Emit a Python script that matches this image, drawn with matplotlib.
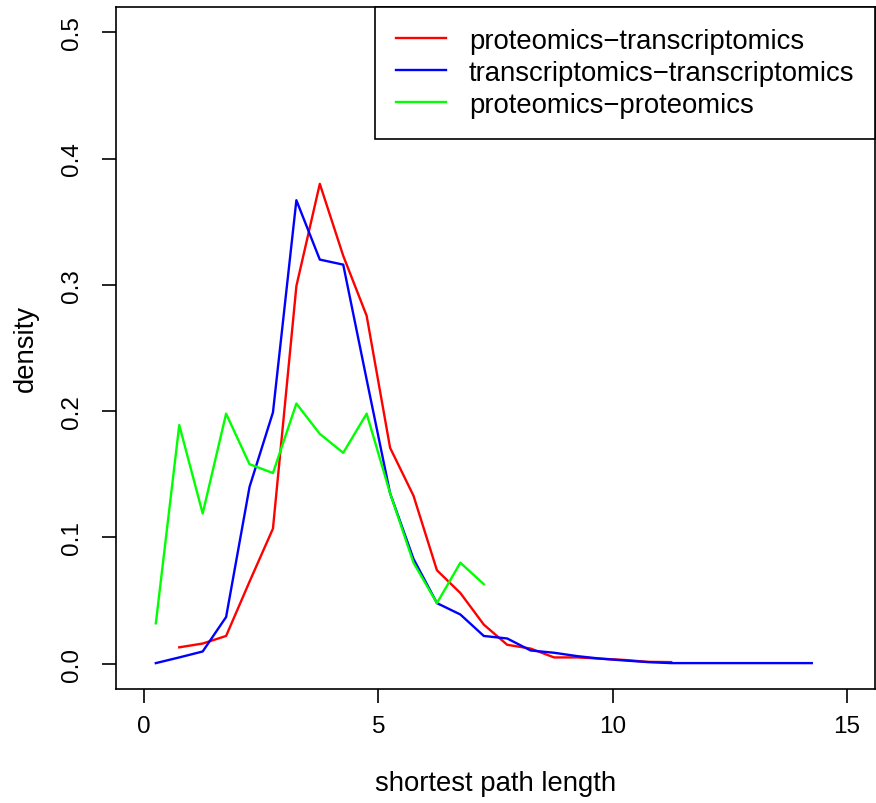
import numpy as np
import matplotlib
matplotlib.use("Agg")
import matplotlib.pyplot as plt

# ─── DATA ────────────────────────────────────────────────────
x_pt = [0.75 + 0.5 * i for i in range(22)]
y_pt = [0.013, 0.016, 0.022, 0.065, 0.107, 0.299, 0.380, 0.323, 0.2755, 0.171,
        0.133, 0.074, 0.056, 0.031, 0.015, 0.012, 0.005, 0.005, 0.004, 0.003,
        0.0015, 0.0013]

x_tt = [0.25 + 0.5 * i for i in range(29)]
y_tt = [0.0005, 0.005, 0.0097, 0.037, 0.140, 0.199, 0.367, 0.320, 0.316, 0.225,
        0.135, 0.083, 0.048, 0.039, 0.022, 0.020, 0.0105, 0.0087, 0.006, 0.004,
        0.0026, 0.0013, 0.0005, 0.0005, 0.0005, 0.0005, 0.0005, 0.0005, 0.0005]

x_pp = [0.25 + 0.5 * i for i in range(15)]
y_pp = [0.032, 0.189, 0.119, 0.198, 0.158, 0.151, 0.206, 0.182, 0.167, 0.198,
        0.135, 0.080, 0.048, 0.080, 0.063]

labels = ["proteomics\u2212transcriptomics",
          "transcriptomics\u2212transcriptomics",
          "proteomics\u2212proteomics"]
colors = ["#FF0000", "#0000FF", "#00FF00"]

x_ticks = [0, 5, 10, 15]
y_ticks = [0.0, 0.1, 0.2, 0.3, 0.4, 0.5]

# ─── PLOT ────────────────────────────────────────────────────
plt.rcParams["font.family"] = ["Liberation Sans", "DejaVu Sans"]

fig = plt.figure(figsize=(8.76, 8.04), dpi=100)
ax = fig.add_axes([116 / 876, 1 - 690 / 804, 759 / 876, 682 / 804])

ax.plot(x_pt, y_pt, color=colors[0], lw=1.7, label=labels[0])
ax.plot(x_tt, y_tt, color=colors[1], lw=1.7, label=labels[1])
ax.plot(x_pp, y_pp, color=colors[2], lw=1.7, label=labels[2])

ax.set_xlim(-0.6, 15.6)
ax.set_ylim(-0.02, 0.52)
ax.set_xticks(x_ticks)
ax.set_xticklabels([str(v) for v in x_ticks])
ax.set_yticks(y_ticks)
ax.set_yticklabels([f"{v:.1f}" for v in y_ticks], rotation=90, va="center")

ax.tick_params(axis="both", direction="out", length=10, width=1.2,
               labelsize=17.5, colors="black")
ax.tick_params(axis="x", pad=9)
ax.tick_params(axis="y", pad=14)
for sp in ax.spines.values():
    sp.set_linewidth(1.2)
    sp.set_color("black")

ax.set_xlabel("shortest path length", fontsize=19.8)
ax.set_ylabel("density", fontsize=19.8)
ax.xaxis.set_label_coords(0.5, -81 / 682)
ax.yaxis.set_label_coords(-77 / 759, 0.5)

leg = ax.legend(loc="upper right", fontsize=19.8, frameon=True, fancybox=False,
                edgecolor="black", framealpha=1, borderaxespad=0,
                handlelength=1.8, handletextpad=0.85, borderpad=0.75,
                labelspacing=0.225)
leg.get_frame().set_linewidth(1.2)

fig.savefig("out.png", dpi=100)
